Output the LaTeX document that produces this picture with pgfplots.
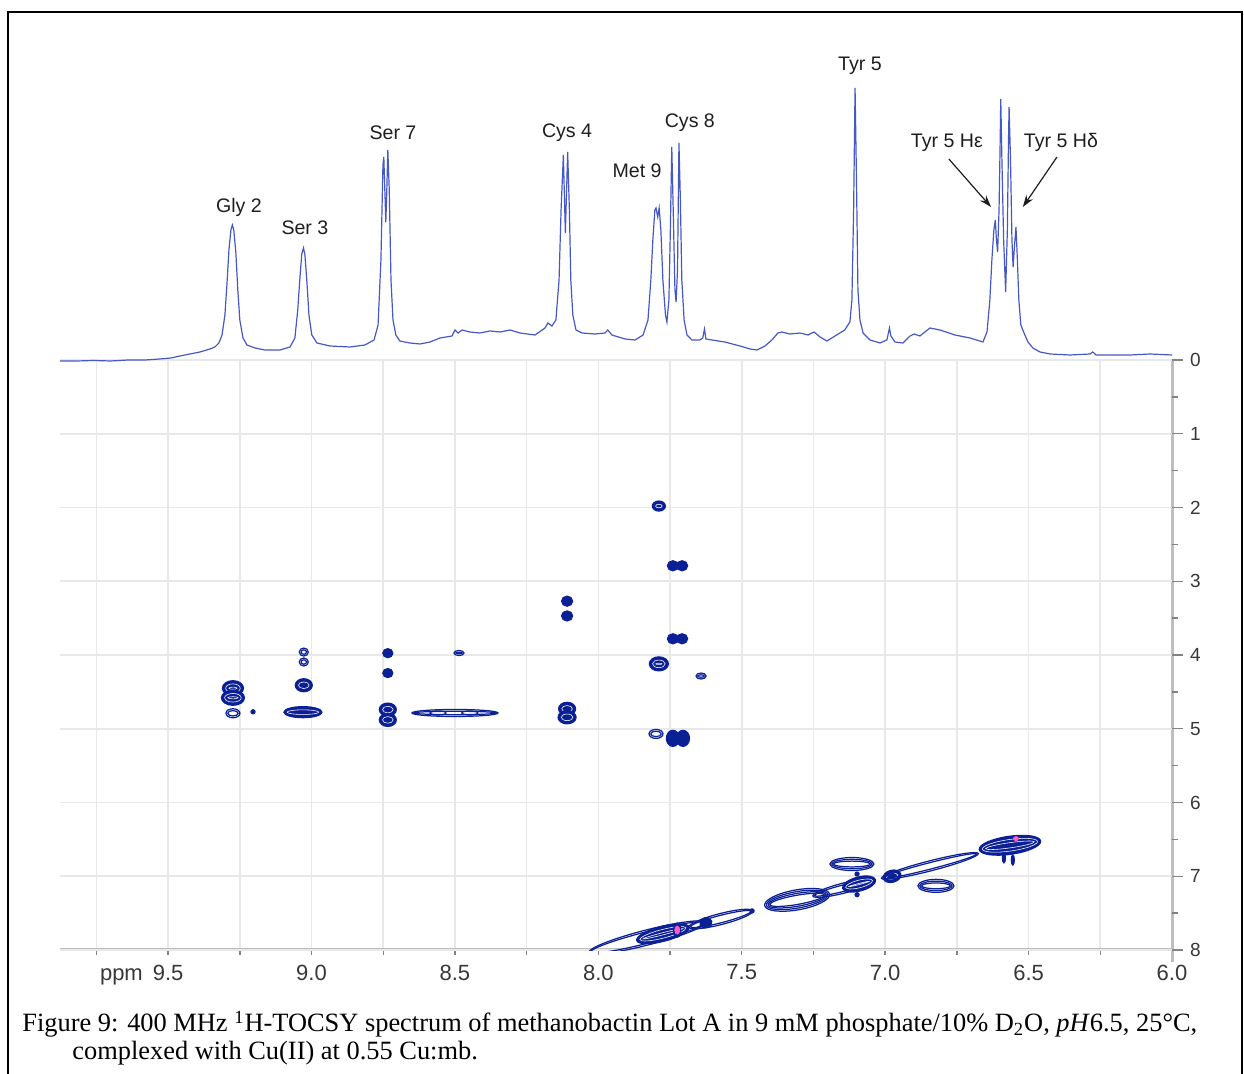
\documentclass[border=0pt]{standalone}
\usepackage{pgfplots}
\pgfplotsset{compat=1.18}
\usepackage{pgfplotstable}
\usetikzlibrary{arrows.meta}
\usepackage{fontspec}
\setmainfont{Liberation Serif}
\setsansfont{Liberation Sans}
\definecolor{cspec}{RGB}{70,88,200}
\definecolor{cnavy}{RGB}{12,32,150}
\definecolor{cpink}{RGB}{255,90,200}
\definecolor{cgrid}{RGB}{232,232,232}
\definecolor{caxis}{RGB}{190,190,190}
\definecolor{ctick}{RGB}{130,130,130}
\definecolor{clab}{RGB}{55,55,55}
\definecolor{ctext}{RGB}{30,30,30}

\def\contring#1{%
  \ifnum#1>\cNi\relax\else
    \pgfpathellipse{\pgfpointorigin}{\pgfpoint{\cRx*0.5pt-#1*0.9pt}{0pt}}{\pgfpoint{0pt}{\cRy*0.5pt-#1*0.9pt}}%
    \pgfusepathqstroke
  \fi}
\def\whitering#1{%
  \ifnum#1>\cNi\relax\else
    \pgfpathellipse{\pgfpointorigin}{\pgfpoint{\cRx*0.5pt-#1*1.6pt}{0pt}}{\pgfpoint{0pt}{\cRy*0.5pt-#1*1.6pt}}%
    \pgfusepathqstroke
  \fi}
\pgfdeclareplotmark{cont}{%
  \pgfscope
  \pgfmathtruncatemacro\cNi{\cN}%
  \pgfmathtruncatemacro\cFi{\cF}%
  \pgftransformrotate{\cAng}%
  \ifnum\cFi=1
    \pgfpathellipse{\pgfpointorigin}{\pgfpoint{\cRx*0.5pt}{0pt}}{\pgfpoint{0pt}{\cRy*0.5pt}}%
    \pgfusepathqfillstroke
    \pgfsetstrokecolor{white}\pgfsetlinewidth{0.28pt}%
    \whitering{1}\whitering{2}\whitering{3}\whitering{4}%
  \else
    \contring{0}\contring{1}\contring{2}\contring{3}\contring{4}\contring{5}%
  \fi
  \endpgfscope
}

\pgfplotstableread{
x y
9.877 -1
9.82 -1
9.76 -0.5
9.70 -1
9.64 0
9.58 0
9.53 1
9.49 2
9.459 4
9.424 6
9.389 8
9.354 11
9.337 13
9.323 17
9.312 25
9.302 45
9.295 75
9.288 110
9.281 130
9.276 135
9.271 130
9.264 108
9.257 70
9.250 40
9.239 22
9.225 15
9.197 12
9.163 10
9.110 10
9.075 13
9.058 22
9.048 50
9.041 80
9.034 106
9.028 112
9.023 105
9.016 78
9.009 45
8.999 25
8.981 17
8.936 14
8.866 13
8.814 15
8.782 20
8.768 35
8.758 100
8.751 195
8.748 203
8.745 175
8.741 138
8.738 165
8.734 210
8.729 170
8.723 80
8.716 40
8.706 25
8.692 19
8.657 17
8.622 16
8.587 18
8.552 22
8.510 24
8.500 30
8.489 27
8.475 30
8.448 28
8.413 27
8.378 29
8.343 28
8.308 30
8.273 27
8.221 25
8.186 32
8.176 37
8.162 34
8.148 40
8.137 80
8.130 150
8.122 205
8.115 127
8.107 208
8.101 150
8.096 80
8.089 45
8.078 30
8.057 27
8.012 26
7.977 27
7.967 30
7.953 25
7.907 21
7.872 20
7.844 25
7.827 40
7.817 80
7.810 120
7.803 150
7.799 152
7.793 143
7.788 152
7.782 130
7.775 80
7.766 45
7.761 38
7.754 60
7.749 130
7.744 213
7.739 150
7.733 70
7.729 58
7.724 90
7.719 217
7.714 160
7.709 80
7.701 40
7.691 25
7.674 20
7.646 20
7.636 22
7.630 31
7.625 21
7.604 20
7.559 18
7.506 14
7.471 11
7.447 10
7.419 14
7.395 20
7.374 27
7.360 28
7.332 26
7.297 27
7.269 25
7.248 28
7.227 23
7.203 19
7.175 24
7.141 30
7.123 38
7.116 60
7.110 150
7.105 272
7.100 180
7.095 70
7.088 40
7.077 27
7.053 20
7.018 17
6.994 20
6.985 32
6.980 24
6.966 18
6.938 17
6.913 24
6.899 26
6.879 24
6.844 32
6.809 30
6.757 25
6.704 22
6.659 18
6.645 28
6.635 60
6.628 100
6.621 130
6.616 140
6.612 120
6.608 108
6.603 150
6.599 220
6.597 261
6.593 200
6.587 120
6.580 68
6.574 130
6.570 220
6.568 253
6.563 200
6.558 120
6.554 93
6.549 115
6.544 133
6.539 100
6.534 60
6.527 35
6.516 27
6.502 18
6.485 12
6.460 8
6.425 6
6.356 5
6.286 6
6.276 8
6.265 5
6.216 5
6.146 5
6.077 6
6.000 5
}\spec

\pgfplotstableread{
x y rx ry a n f
9.274 4.45 10.5 7.5 0 2 1
9.274 4.58 11.5 7.5 0 2 1
9.274 4.79 7 4.5 0 1 0
9.204 4.77 2 2 0 0 1
9.027 3.96 4.5 4 0 1 0
9.027 4.095 4.5 4 0 1 0
9.027 4.41 8.5 6.5 0 1 1
9.030 4.775 19 5.5 0 1 1
8.734 3.975 5 4.5 0 0 1
8.734 4.245 5 4.5 0 0 1
8.734 4.74 8.5 6.5 0 1 1
8.734 4.88 8.5 6.5 0 1 1
8.500 4.786 43 3.5 0 1 0
8.559 4.786 8 2 0 0 0
8.448 4.786 8 2 0 0 0
8.486 3.973 5 2.5 0 1 0
8.109 3.27 5.5 5 0 0 1
8.109 3.47 5.5 5 0 0 1
8.109 4.73 8.5 6.5 0 1 1
8.109 4.845 9 6.5 0 1 1
7.789 1.98 6.5 5 0 1 1
7.789 4.12 9.5 7 0 2 1
7.799 5.07 7 4.5 0 1 0
7.740 2.79 5.5 5 0 0 1
7.708 2.79 5.5 5 0 0 1
7.740 3.78 5.5 5 0 0 1
7.708 3.78 5.5 5 0 0 1
7.740 5.13 6.5 8 0 0 1
7.705 5.13 6.5 8 0 0 1
7.642 4.285 5 3 0 1 0
7.83 7.83 60 7.5 14.4 1 0
7.775 7.78 27 7.5 14.4 2 1
7.725 7.73 3.5 7 0 0 1
7.625 7.63 6 5 14.4 0 1
7.573 7.58 33 5.5 14.4 1 0
7.464 7.47 2 2 0 0 1
7.307 7.32 33 10 10 3 0
7.144 7.16 32 5 14.4 1 0
7.091 7.105 17 7 14.4 2 1
7.098 6.97 2 2 0 0 1
7.098 7.25 2 2 0 0 1
7.116 6.834 22 6.5 0 2 0
6.976 7.0 9 6 14.4 1 1
6.844 6.86 50 5 14.4 1 0
6.823 7.13 18 6.5 0 2 0
6.565 6.58 31 9 8 2 1
6.586 6.75 1.5 5 0 0 1
6.555 6.78 1.5 5 0 0 1
}\contours

\pgfplotstableread{
x y rx ry a n f
7.725 7.73 2.5 4 0 0 1
6.544 6.49 2.5 2 0 0 1
}\pinks

\begin{document}
\begin{tikzpicture}
\path[use as bounding box] (0,0) rectangle (622pt,-537pt);
\draw[line width=1pt,black] (4pt,-537pt) -- (4pt,-6pt) -- (621pt,-6pt) -- (621pt,-537pt);

% x overlay: vertical grid, x ticks, axis lines
\begin{axis}[at={(30pt,-475pt)}, anchor=south west, width=556pt, height=295pt, scale only axis,
  xmin=6, xmax=9.877, x dir=reverse, ymin=0, ymax=1, ytick=\empty,
  axis line style={draw=none},
  xtick={6,6.5,7,7.5,8,8.5,9,9.5},
  xticklabels={6.0,6.5,7.0,7.5,8.0,8.5,9.0,\llap{ppm\hspace{5pt}}9.5},
  minor xtick={6.25,6.75,7.25,7.75,8.25,8.75,9.25,9.75},
  xmajorgrids, xminorgrids,
  major grid style={cgrid, line width=0.8pt}, minor grid style={cgrid, line width=0.8pt},
  tick pos=left, tick align=outside, major tick length=2.3pt, minor tick length=2.3pt,
  tick style={ctick, line width=0.7pt},
  xticklabel style={font=\sffamily\fontsize{11}{13}\selectfont, text=clab, yshift=-1.5pt},
  clip=false]
\addplot[draw=none] coordinates {(7,0.5)};
\draw[caxis, line width=1.5pt] (axis cs:9.877,0) -- (axis cs:6,0);
\draw[caxis, line width=1.5pt] (axis cs:6,1) -- (axis cs:6,-0.02);
\end{axis}

% y overlay: horizontal grid, y ticks on right
\begin{axis}[at={(30pt,-475pt)}, anchor=south west, width=556pt, height=295pt, scale only axis,
  xmin=0, xmax=1, xtick=\empty, ymin=0, ymax=8, y dir=reverse,
  axis line style={draw=none},
  ytick={0,1,2,3,4,5,6,7,8}, yticklabels={0,1,2,3,4,5,6,7,8},
  minor ytick={0.5,1.5,2.5,3.5,4.5,5.5,6.5,7.5},
  ymajorgrids, major grid style={cgrid, line width=0.8pt},
  tick pos=right, tick align=outside, major tick length=5.5pt, minor tick length=3pt,
  tick style={ctick, line width=0.7pt},
  yticklabel style={font=\sffamily\fontsize{9.5}{11}\selectfont, text=clab},
  clip=false]
\addplot[draw=none] coordinates {(0.5,4)};
\end{axis}

% 2D contours
\begin{axis}[at={(30pt,-475pt)}, anchor=south west, width=556pt, height=295pt, scale only axis,
  xmin=6, xmax=9.877, x dir=reverse, ymin=0, ymax=8, y dir=reverse,
  hide axis, clip marker paths=true]
\addplot[scatter, only marks, mark=cont,
  scatter/use mapped color={draw=cnavy, fill=cnavy},
  mark options={line width=0.62pt},
  visualization depends on={\thisrow{rx}\as\cRx},
  visualization depends on={\thisrow{ry}\as\cRy},
  visualization depends on={\thisrow{a}\as\cAng},
  visualization depends on={\thisrow{n}\as\cN},
  visualization depends on={\thisrow{f}\as\cF}] table {\contours};
\addplot[scatter, only marks, mark=cont,
  scatter/use mapped color={draw=cpink, fill=cpink},
  mark options={line width=0.4pt},
  visualization depends on={\thisrow{rx}\as\cRx},
  visualization depends on={\thisrow{ry}\as\cRy},
  visualization depends on={\thisrow{a}\as\cAng},
  visualization depends on={\thisrow{n}\as\cN},
  visualization depends on={\thisrow{f}\as\cF}] table {\pinks};
\end{axis}

% 1D spectrum
\begin{axis}[at={(30pt,-180pt)}, anchor=south west, width=556pt, height=150pt, scale only axis,
  xmin=6, xmax=9.877, x dir=reverse, ymin=0, ymax=300,
  hide axis, clip=false]
\addplot[cspec, line width=0.6pt] table {\spec};
\tikzset{lab/.style={anchor=base, inner sep=0pt, text=ctext, font=\sffamily\fontsize{9.8}{11}\selectfont}}
\node[lab] at (axis cs:9.253,147) {Gly 2};
\node[lab] at (axis cs:9.023,125) {Ser 3};
\node[lab] at (axis cs:8.716,220) {Ser 7};
\node[lab] at (axis cs:8.109,222) {Cys 4};
\node[lab] at (axis cs:7.865,182) {Met 9};
\node[lab] at (axis cs:7.681,232) {Cys 8};
\node[lab] at (axis cs:7.088,289) {Tyr 5};
\node[lab] at (axis cs:6.785,212) {Tyr 5 Hε};
\node[lab] at (axis cs:6.387,212) {Tyr 5 Hδ};
\draw[-{Stealth[length=6pt,width=4pt]}, line width=0.6pt, ctext] (axis cs:6.778,201) -- (axis cs:6.631,153);
\draw[-{Stealth[length=6pt,width=4pt]}, line width=0.6pt, ctext] (axis cs:6.401,203) -- (axis cs:6.520,153);
\end{axis}

\node[anchor=base west, inner sep=0pt, font=\fontsize{13.2}{15}\selectfont] at (11pt,-516pt)
  {Figure 9: 400 MHz \textsuperscript{1}H-TOCSY spectrum of methanobactin Lot A in 9 mM phosphate/10\% D\textsubscript{2}O, \textit{pH}6.5, 25°C,};
\node[anchor=base west, inner sep=0pt, font=\fontsize{13.2}{15}\selectfont] at (36pt,-530pt)
  {complexed with Cu(II) at 0.55 Cu:mb.};
\end{tikzpicture}
\end{document}
